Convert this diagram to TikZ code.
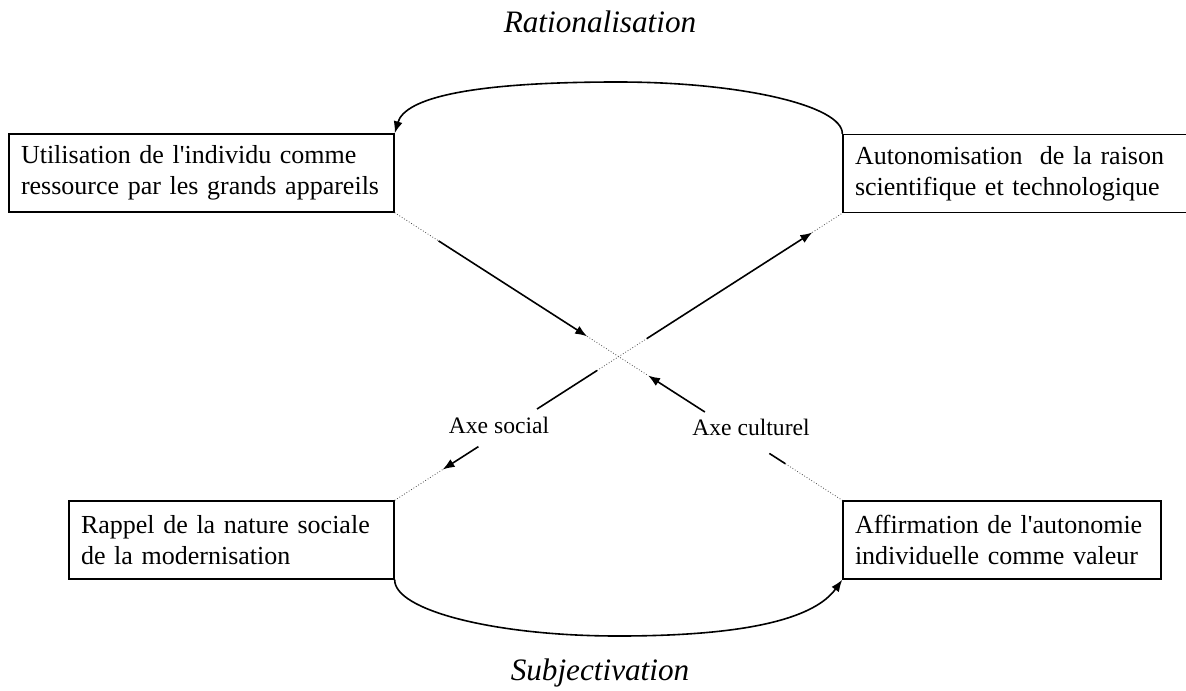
\documentclass[tikz,border=0pt]{standalone}
\usepackage{fontspec}
\setmainfont{Liberation Serif}[Ligatures=TeXOff]
\usetikzlibrary{arrows.meta,calc}

\tikzset{
  box/.style={draw, line width=0.7pt, inner xsep=6pt, inner ysep=0pt,
    minimum height=39pt, align=left, font=\fontsize{13}{15.5}\selectfont},
  axe/.style={line width=0.8pt},
  tip/.style={axe, -{Latex[length=6pt,width=4.5pt]}},
  pointille/.style={densely dotted, line width=0.4pt, black!70},
  axetexte/.style={font=\fontsize{11.8}{14}\selectfont},
  titre/.style={font=\fontsize{15.6}{18}\selectfont\itshape}
}

\begin{document}
\begin{tikzpicture}[x=0.5pt, y=-0.5pt]
  \useasboundingbox (0,0) rectangle (1186,690);

  \node[titre, anchor=base] (rat) at (600,33) {Rationalisation};
  \node[titre, anchor=base] (sub) at (600,680) {Subjectivation};

  \node[box, text width=180.5pt] (util) at (201.5,173)
    {Utilisation de l'individu comme\\ressource par les grands appareils};
  \node[box, text width=161.5pt] (auto) at (1016.5,173.5)
    {Autonomisation~ de la raison\\scientifique et technologique};
  \node[box, text width=150.5pt] (rappel) at (231.5,540)
    {Rappel de la nature sociale\\de la modernisation};
  \node[box, text width=147pt] (affirm) at (1002,540)
    {Affirmation de l'autonomie\\individuelle comme valeur};

  \node[axetexte, anchor=base] (social) at (499,433) {Axe social};
  \node[axetexte, anchor=base] (culturel) at (751,435) {Axe culturel};

  % boucles du haut et du bas
  \coordinate (haut) at (618,82);
  \coordinate (bas) at (618,636);
  \draw[tip] (auto.north west) .. controls (843,106) and (742,82) .. (haut)
    .. controls (470,82) and (405,98) .. (util.north east);
  \draw[tip] (rappel.south east) .. controls (394,610) and (494,636) .. (bas)
    .. controls (756,636) and (816,616) .. (affirm.south west);

  % axe culturel
  \foreach \t/\n in {0.098/c1,0.43/c2,0.566/c3,0.693/c4,0.837/c5,0.873/c6}
    \coordinate (\n) at ($(util.south east)!\t!(affirm.north west)$);
  \draw[pointille] (util.south east) -- (c1);
  \draw[tip] (c1) -- (c2);
  \draw[pointille] (c2) -- (c3);
  \draw[tip] (c4) -- (c3);
  \draw[axe] (c5) -- (c6);
  \draw[pointille] (c6) -- (affirm.north west);

  % axe social
  \foreach \t/\n in {0.107/s1,0.187/s2,0.318/s3,0.452/s4,0.563/s5,0.933/s6}
    \coordinate (\n) at ($(rappel.north east)!\t!(auto.south west)$);
  \draw[pointille] (rappel.north east) -- (s1);
  \draw[tip] (s2) -- (s1);
  \draw[axe] (s3) -- (s4);
  \draw[pointille] (s4) -- (s5);
  \draw[tip] (s5) -- (s6);
  \draw[pointille] (s6) -- (auto.south west);
\end{tikzpicture}
\end{document}
